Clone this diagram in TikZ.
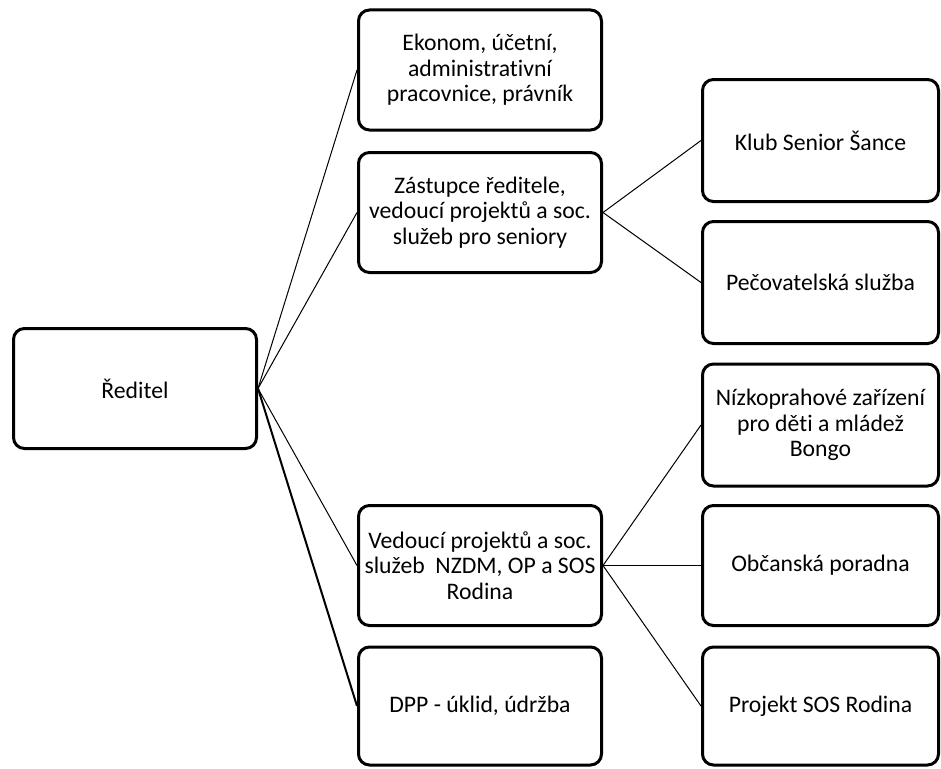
\documentclass[tikz,border=0pt]{standalone}
\usepackage{fontspec}
\setmainfont{Carlito}[Ligatures=NoCommon]
\begin{document}
\begin{tikzpicture}[x=1pt,y=-1pt,
  box/.style={draw=black,line width=3pt,rounded corners=11pt,align=center,
    minimum width=243pt,minimum height=120pt,inner sep=2pt,
    font=\fontsize{23.7}{25.5}\selectfont},
  rbox/.style={box,minimum width=236pt,minimum height=122pt},
  link/.style={draw=black,line width=1pt},
  thicklink/.style={draw=black,line width=2pt}]
\useasboundingbox (0,0) rectangle (941,768);
\node[box] (red) at (135,388.5) {Ředitel};
\node[box] (eko) at (480,70) {Ekonom, účetní,\\administrativní\\pracovnice, právník};
\node[box] (zas) at (480,212.5) {Zástupce ředitele,\\vedoucí projektů a soc.\\služeb pro seniory};
\node[box] (ved) at (480,565.5) {Vedoucí projektů a soc.\\služeb\ \ NZDM, OP a SOS\\Rodina};
\node[box,minimum height=118pt] (dpp) at (480,706) {DPP - úklid, údržba};
\node[rbox] (klub) at (820.5,140.5) {Klub Senior Šance};
\node[rbox] (pec) at (820.5,282.5) {Pečovatelská služba};
\node[rbox] (niz) at (820.5,425) {Nízkoprahové zařízení\\pro děti a mládež\\Bongo};
\node[rbox,minimum height=120pt] (obc) at (820.5,565.5) {Občanská poradna};
\node[rbox,minimum height=118pt] (sos) at (820.5,706) {Projekt SOS Rodina};
\draw[link] (red.east) -- (eko.west);
\draw[link] (red.east) -- (zas.west);
\draw[link] (red.east) -- (ved.west);
\draw[thicklink] (red.east) -- (dpp.west);
\draw[link] (zas.east) -- (klub.west);
\draw[link] (zas.east) -- (pec.west);
\draw[link] (ved.east) -- (niz.west);
\draw[link] (ved.east) -- (obc.west);
\draw[link] (ved.east) -- (sos.west);
\end{tikzpicture}
\end{document}
